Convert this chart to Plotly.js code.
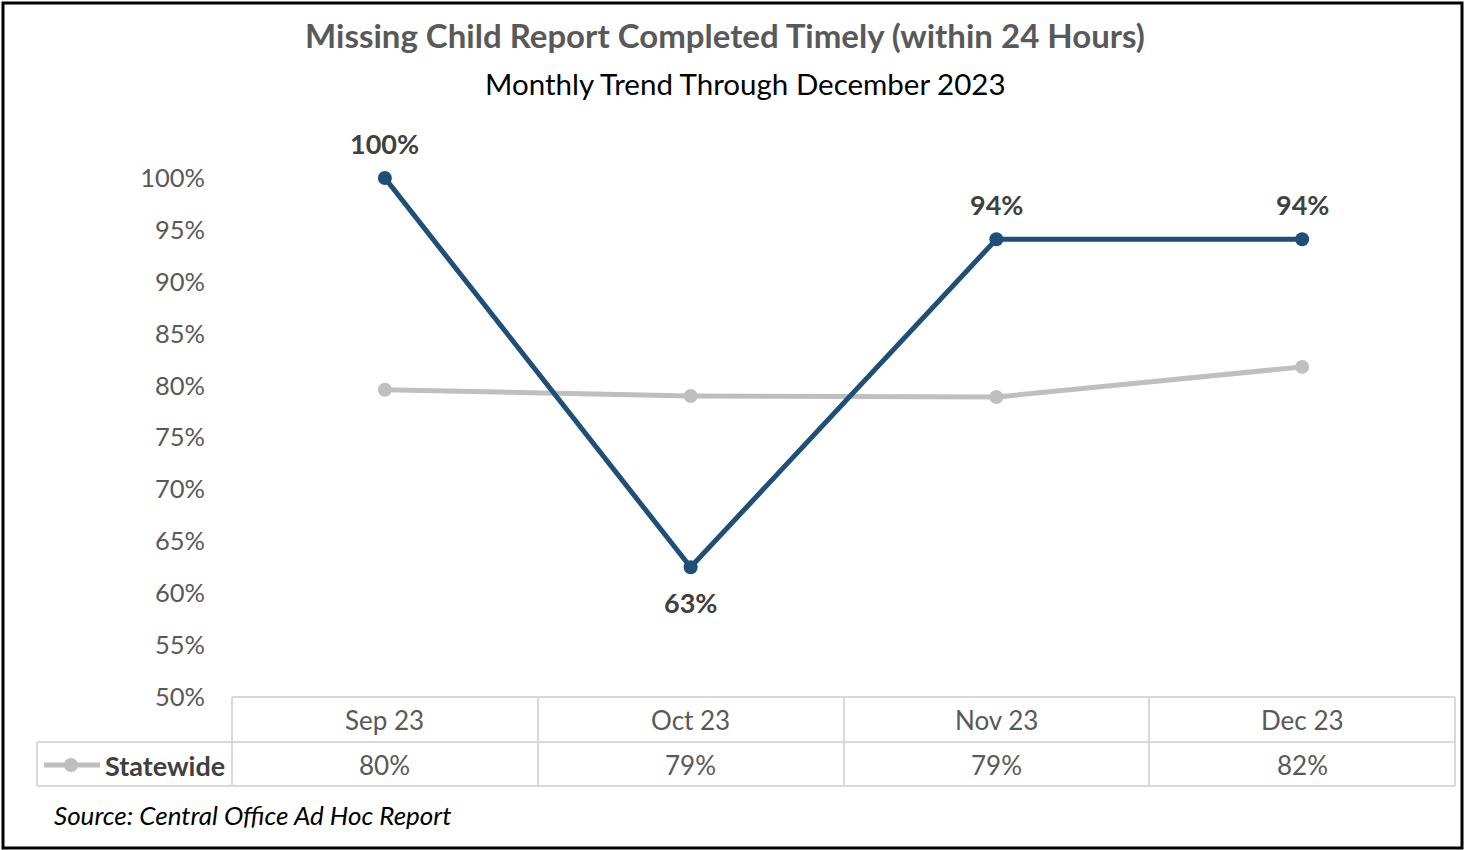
<!DOCTYPE html>
<html>
<head>
<meta charset="utf-8">
<script src="https://cdn.plot.ly/plotly-3.0.1.min.js"></script>
<style>
  html, body { margin: 0; padding: 0; background: #fff; }
  #chart { width: 1465px; height: 850px; }
</style>
</head>
<body>
<div id="chart"></div>
<script>
const months = ['Sep 23', 'Oct 23', 'Nov 23', 'Dec 23'];
const countyValues = [100, 62.5, 94.1, 94.1];
const statewideValues = [79.6, 79.0, 78.9, 81.8];
const labelAbove = [true, false, true, true];

const FONT = 'Lato, "Liberation Sans", sans-serif';
const BLUE = '#1F4E79';
const GRAY = '#BFBFBF';
const GRID = '#D9D9D9';

// plot area in pixels: x 232..1455, y 178..697
const L = 232, R = 1455, T = 178, B = 697;
const px = x => (x - L) / (R - L);
const py = y => (B - y) / (B - T);

const traces = [
  {
    x: months, y: statewideValues, name: 'Statewide',
    mode: 'lines+markers', type: 'scatter', cliponaxis: false,
    line: { color: GRAY, width: 5 },
    marker: { color: GRAY, size: 14 },
    hoverinfo: 'skip'
  },
  {
    x: months, y: countyValues, name: 'County',
    mode: 'lines+markers', type: 'scatter', cliponaxis: false,
    line: { color: BLUE, width: 5 },
    marker: { color: BLUE, size: 14 },
    hoverinfo: 'skip'
  }
];

const annotations = [];

// data labels on the blue series
countyValues.forEach((v, i) => {
  annotations.push({
    x: months[i], y: v, xref: 'x', yref: 'y', yanchor: 'middle',
    text: Math.round(v) + '%', showarrow: false,
    yshift: labelAbove[i] ? 35 : -35,
    font: { family: FONT, size: 27, color: '#404040', weight: 'bold' }
  });
});

// data table: header row (months) and Statewide row
months.forEach((m, i) => {
  annotations.push({
    x: m, y: py(720), xref: 'x', yref: 'paper', yanchor: 'middle',
    text: m, showarrow: false,
    font: { family: FONT, size: 26, color: '#595959' }
  });
  annotations.push({
    x: m, y: py(765), xref: 'x', yref: 'paper', yanchor: 'middle',
    text: Math.round(statewideValues[i]) + '%', showarrow: false,
    font: { family: FONT, size: 26, color: '#595959' }
  });
});
annotations.push({
  x: px(227), y: py(765), xref: 'paper', yref: 'paper',
  xanchor: 'right', yanchor: 'middle',
  text: 'Statewide', showarrow: false,
  font: { family: FONT, size: 27, color: '#404040', weight: 'bold' }
});
annotations.push({
  x: px(52), y: py(815), xref: 'paper', yref: 'paper',
  xanchor: 'left', yanchor: 'middle',
  text: '<i>Source: Central Office Ad Hoc Report</i>', showarrow: false,
  font: { family: FONT, size: 26, color: '#000' }
});
annotations.push({
  x: px(745), y: py(83), xref: 'paper', yref: 'paper',
  xanchor: 'center', yanchor: 'middle',
  text: 'Monthly Trend Through December 2023', showarrow: false,
  font: { family: FONT, size: 29.5, color: '#000' }
});

const hline = (x0, x1, y) => ({ type: 'line', xref: 'paper', yref: 'paper',
  x0: px(x0), x1: px(x1), y0: py(y), y1: py(y), line: { color: GRID, width: 2 } });
const vline = (x, y0, y1) => ({ type: 'line', xref: 'paper', yref: 'paper',
  x0: px(x), x1: px(x), y0: py(y0), y1: py(y1), line: { color: GRID, width: 2 } });

const colEdges = [232, 538, 844, 1149, 1455];
const shapes = [
  // outer border
  { type: 'rect', xref: 'paper', yref: 'paper',
    x0: px(3), x1: px(1462), y0: py(848), y1: py(3),
    line: { color: '#000', width: 3 } },
  hline(232, 1455, 697),
  hline(37, 1455, 742),
  hline(37, 1455, 786),
  vline(37, 742, 786)
];
colEdges.forEach(x => shapes.push(vline(x, 697, 786)));
// legend key in the table row
shapes.push({ type: 'line', xref: 'paper', yref: 'paper',
  x0: px(44), x1: px(100), y0: py(765), y1: py(765), line: { color: GRAY, width: 5 } });
shapes.push({ type: 'circle', xref: 'paper', yref: 'paper',
  x0: px(64), x1: px(78), y0: py(772), y1: py(758),
  fillcolor: GRAY, line: { color: GRAY, width: 0 } });

const layout = {
  width: 1465, height: 850,
  margin: { l: L, r: 1465 - R, t: T, b: 850 - B, pad: 0 },
  paper_bgcolor: '#fff', plot_bgcolor: '#fff',
  showlegend: false,
  title: {
    text: '<b>Missing Child Report Completed Timely (within 24 Hours)</b>',
    x: 725 / 1465, xanchor: 'center', y: 1 - 36 / 850, yanchor: 'middle',
    font: { family: FONT, size: 33, color: '#595959' }
  },
  xaxis: {
    type: 'category', range: [-0.5, 3.5],
    showticklabels: false, showgrid: false, zeroline: false, showline: false, ticks: ''
  },
  yaxis: {
    range: [50, 100], dtick: 5, ticksuffix: '%',
    showgrid: false, zeroline: false, showline: false, ticks: '',
    ticklabelstandoff: 26,
    tickfont: { family: FONT, size: 25.5, color: '#595959' }
  },
  annotations: annotations,
  shapes: shapes
};

Plotly.newPlot('chart', traces, layout, { staticPlot: true });
</script>
</body>
</html>
